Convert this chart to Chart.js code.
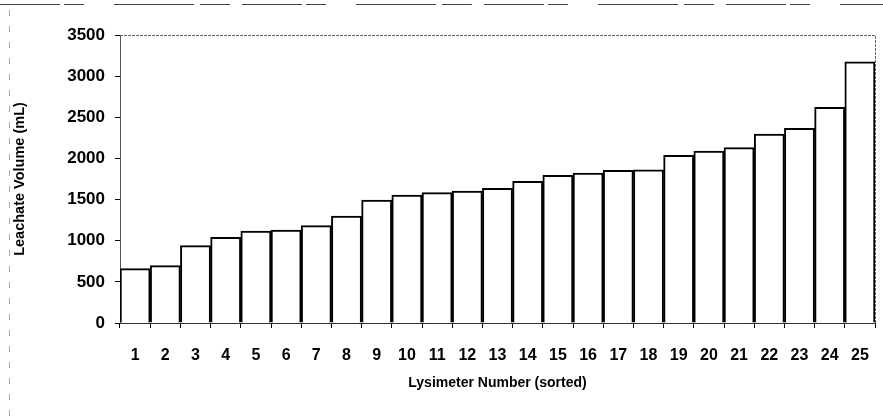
<!DOCTYPE html>
<html>
<head>
<meta charset="utf-8">
<script src="https://cdn.jsdelivr.net/npm/chart.js@4"></script>
<style>
  body { margin: 0; background: #fff; }
  canvas { display: block; }
</style>
</head>
<body>
<canvas id="graph1" width="883" height="418"></canvas>
<script>
const lysimeters = ['1','2','3','4','5','6','7','8','9','10','11','12','13','14','15','16','17','18','19','20','21','22','23','24','25'];
const volumes = [660, 697, 940, 1041, 1118, 1130, 1183, 1300, 1495, 1556, 1584, 1604, 1637, 1722, 1795, 1823, 1856, 1860, 2038, 2090, 2131, 2297, 2366, 2621, 3175];

// cadre du graphique (haut et droite) + bord exterieur
const cadre = {
    id: 'cadre',
    afterDraw(chart) {
        const a = chart.chartArea;
        const ctx = chart.ctx;
        ctx.save();
        ctx.strokeStyle = '#666';
        ctx.lineWidth = 1;
        ctx.setLineDash([3, 1]);
        ctx.beginPath();
        ctx.moveTo(a.left, a.top + 0.5);
        ctx.lineTo(a.right + 0.5, a.top + 0.5);
        ctx.lineTo(a.right + 0.5, a.bottom);
        ctx.stroke();
        // bord exterieur
        ctx.strokeStyle = '#444';
        ctx.setLineDash([60, 4, 20, 30, 80, 6, 30, 12]);
        ctx.beginPath();
        ctx.moveTo(0, 4.5);
        ctx.lineTo(883, 4.5);
        ctx.stroke();
        ctx.strokeStyle = '#aaa';
        ctx.setLineDash([6, 10]);
        ctx.beginPath();
        ctx.moveTo(9.5, 10);
        ctx.lineTo(9.5, 418);
        ctx.stroke();
        ctx.restore();
    }
};

const famille = 'Arial, "Liberation Sans", sans-serif';

new Chart(document.querySelector('#graph1'), {
    type: 'bar',
    data: {
        labels: lysimeters,
        datasets: [{
            label: 'Leachate Volume',
            data: volumes,
            backgroundColor: '#fff',
            borderColor: '#000',
            borderWidth: 2,
            barPercentage: 1,
            categoryPercentage: 1
        }]
    },
    options: {
        responsive: false,
        animation: false,
        layout: { padding: { left: 11, right: 8, top: 35, bottom: 26 } },
        plugins: {
            legend: { display: false },
            tooltip: { enabled: false }
        },
        scales: {
            x: {
                grid: { drawOnChartArea: false, color: '#000', tickLength: 5 },
                border: { color: '#333', width: 1 },
                ticks: { color: '#000', font: { family: famille, size: 16, weight: 'bold' }, padding: 18, maxRotation: 0, autoSkip: false },
                title: { display: true, text: 'Lysimeter Number (sorted)', color: '#000', font: { family: famille, size: 14, weight: 'bold' }, padding: 0 },
                afterFit(s) { s.height = 69; s.paddingLeft = 0; s.paddingRight = 0; }
            },
            y: {
                min: 0,
                max: 3500,
                ticks: {
                    stepSize: 500,
                    color: '#000',
                    font: { family: famille, size: 17, weight: 'bold' },
                    padding: 10,
                    callback: v => String(v)
                },
                grid: { drawOnChartArea: false, color: '#000', tickLength: 5 },
                border: { color: '#555', width: 1 },
                title: { display: true, text: 'Leachate Volume (mL)', color: '#000', font: { family: famille, size: 14.5, weight: 'bold' }, padding: 0 },
                afterFit(s) { s.width = 109; }
            }
        }
    },
    plugins: [cadre]
});
</script>
</body>
</html>
